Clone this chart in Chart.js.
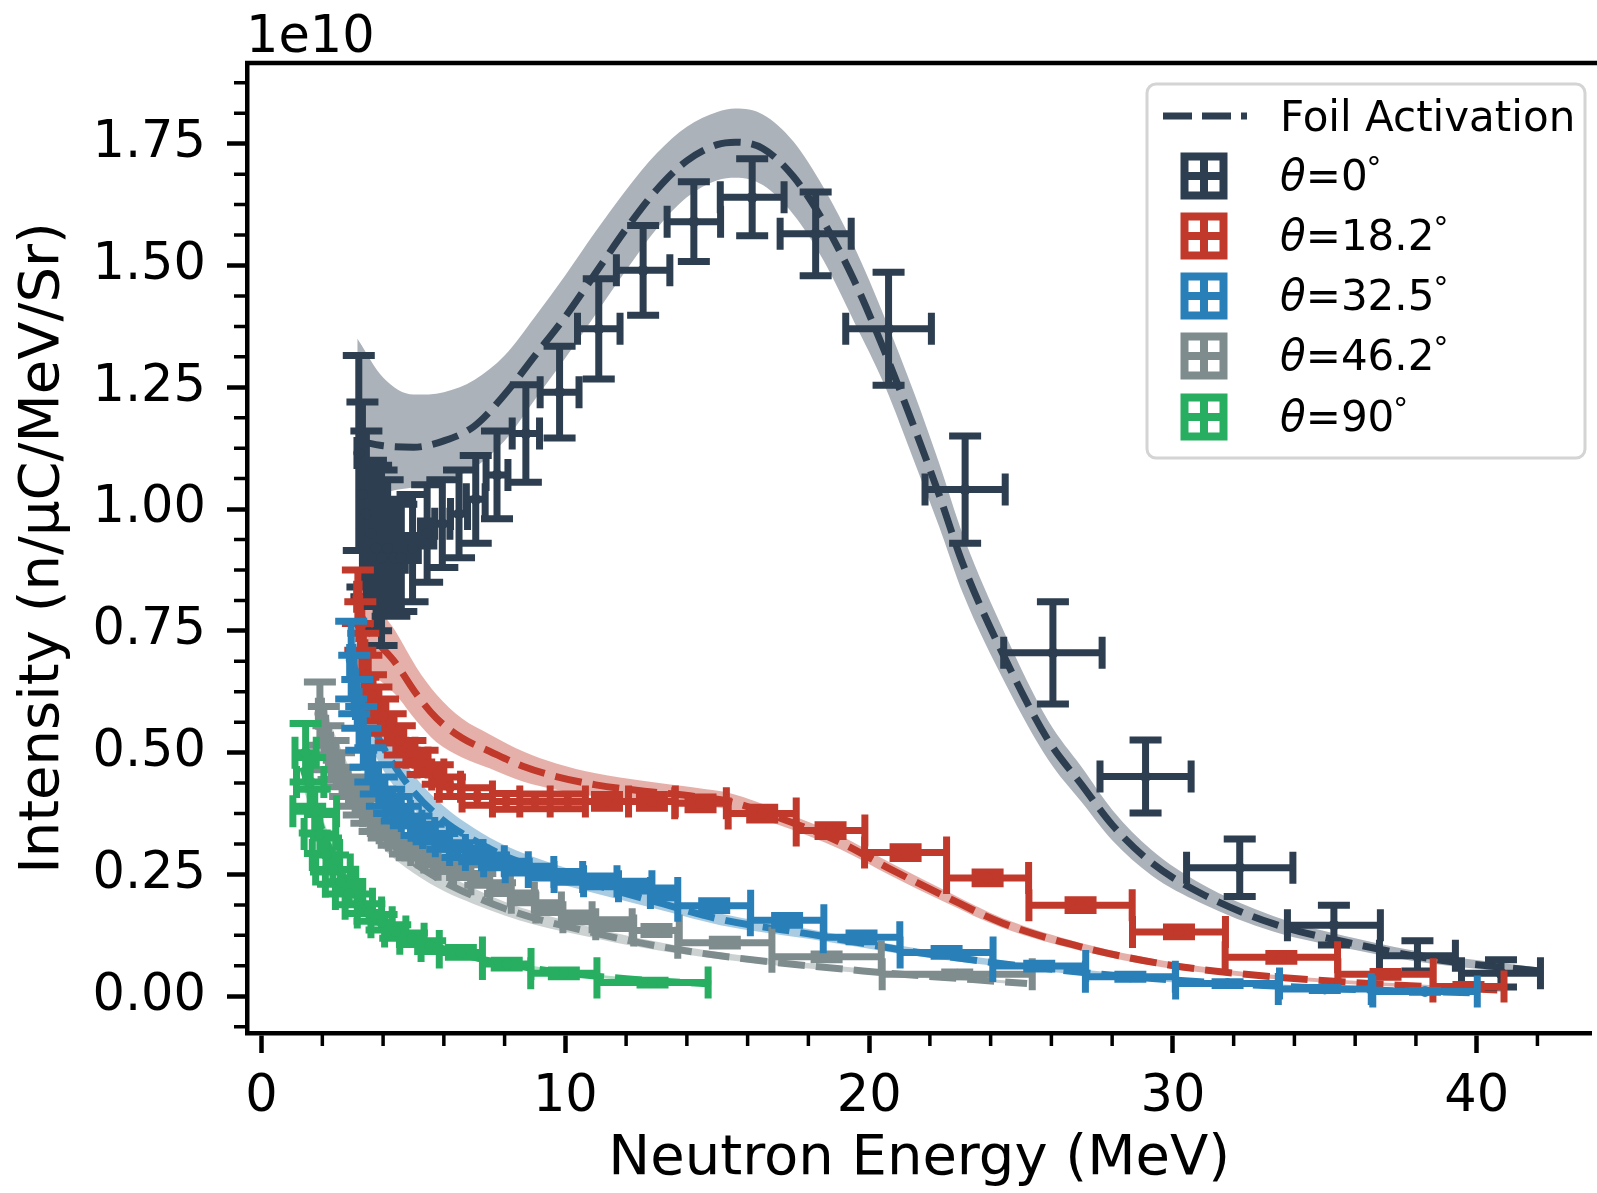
<!DOCTYPE html>
<html>
<head>
<meta charset="utf-8">
<title>Neutron energy spectra</title>
<script src="https://cdn.jsdelivr.net/npm/chart.js@4.4.1/dist/chart.umd.min.js"></script>
<style>
  html, body { margin: 0; padding: 0; background: #fff; overflow: hidden; }
  #chart { display: block; }
</style>
</head>
<body>
<canvas id="chart" width="1597" height="1193"></canvas>
<script>
// values are in units of 1e10 n/uC/MeV/Sr

// theta = 0
const energy0 = [3.2, 3.32, 3.45, 3.6, 3.77, 3.95, 4.15, 4.37, 4.6, 4.97, 5.45, 5.95, 6.5, 7.05, 7.75, 8.7, 9.81, 11.1, 12.56, 14.23, 16.15, 18.24, 20.64, 23.16, 26.05, 29.1, 32.2, 35.3, 38.05, 40.8];
const intensity0 = [1.115, 1.03, 0.99, 0.95, 0.92, 0.90, 0.92, 0.90, 0.90, 0.92, 0.95, 0.97, 0.99, 1.02, 1.07, 1.155, 1.24, 1.37, 1.49, 1.59, 1.64, 1.565, 1.37, 1.04, 0.705, 0.451, 0.264, 0.146, 0.083, 0.047];
const energyErr0 = [0.06, 0.07, 0.07, 0.08, 0.09, 0.1, 0.11, 0.11, 0.13, 0.19, 0.22, 0.25, 0.28, 0.31, 0.36, 0.45, 0.64, 0.7, 0.88, 0.88, 1.05, 1.17, 1.41, 1.32, 1.62, 1.5, 1.75, 1.53, 1.25, 1.3];
const intensityErr0 = [0.2, 0.19, 0.17, 0.15, 0.17, 0.18, 0.14, 0.12, 0.11, 0.11, 0.1, 0.09, 0.09, 0.09, 0.09, 0.1, 0.094, 0.103, 0.092, 0.082, 0.079, 0.086, 0.116, 0.11, 0.105, 0.075, 0.059, 0.041, 0.031, 0.028];

// theta = 18.2
const energy18 = [3.17, 3.25, 3.35, 3.45, 3.6, 3.78, 4.0, 4.25, 4.55, 4.9, 5.3, 5.8, 6.2, 7.1, 8.05, 9.0, 10.08, 11.37, 12.85, 14.45, 16.48, 18.73, 21.2, 23.9, 26.96, 30.2, 33.57, 37.0, 39.73];
const intensity18 = [0.82, 0.76, 0.70, 0.66, 0.62, 0.60, 0.575, 0.55, 0.525, 0.50, 0.48, 0.455, 0.43, 0.41, 0.40, 0.40, 0.40, 0.40, 0.40, 0.396, 0.375, 0.34, 0.295, 0.243, 0.187, 0.132, 0.08, 0.045, 0.02];
const energyErr18 = [0.04, 0.05, 0.05, 0.06, 0.07, 0.08, 0.09, 0.11, 0.13, 0.15, 0.18, 0.2, 0.35, 0.5, 0.45, 0.5, 0.58, 0.71, 0.77, 0.85, 1.12, 1.13, 1.35, 1.35, 1.7, 1.53, 1.85, 1.57, 1.17];
const intensityErr18 = [0.055, 0.05, 0.045, 0.04, 0.04, 0.035, 0.035, 0.03, 0.03, 0.025, 0.025, 0.02, 0.02, 0.018, 0.016, 0.015, 0.015, 0.014, 0.014, 0.013, 0.013, 0.012, 0.012, 0.012, 0.011, 0.01, 0.008, 0.006, 0.004];

// theta = 32.5
const energy32 = [2.95, 3.05, 3.15, 3.28, 3.42, 3.58, 3.76, 3.96, 4.2, 4.45, 4.75, 5.1, 5.5, 5.95, 6.45, 7.0, 7.65, 8.4, 9.2, 10.1, 11.15, 12.3, 13.25, 14.9, 17.3, 19.75, 22.55, 25.6, 28.6, 31.8, 35.0, 38.3];
const intensity32 = [0.69, 0.64, 0.60, 0.55, 0.51, 0.475, 0.445, 0.42, 0.40, 0.385, 0.37, 0.35, 0.335, 0.318, 0.30, 0.29, 0.277, 0.265, 0.255, 0.245, 0.236, 0.226, 0.212, 0.186, 0.156, 0.121, 0.09, 0.062, 0.04, 0.026, 0.015, 0.01];
const energyErr32 = [0.05, 0.05, 0.06, 0.07, 0.07, 0.08, 0.09, 0.1, 0.12, 0.13, 0.15, 0.18, 0.2, 0.23, 0.26, 0.29, 0.34, 0.38, 0.42, 0.47, 0.55, 0.55, 0.45, 1.2, 1.21, 1.26, 1.53, 1.53, 1.48, 1.71, 1.53, 1.72];
const intensityErr32 = [0.08, 0.06, 0.05, 0.045, 0.04, 0.035, 0.03, 0.03, 0.025, 0.025, 0.02, 0.02, 0.018, 0.016, 0.015, 0.014, 0.013, 0.012, 0.012, 0.011, 0.011, 0.01, 0.01, 0.01, 0.01, 0.009, 0.008, 0.006, 0.005, 0.004, 0.003, 0.002];

// theta = 46.2
const energy46 = [1.92, 2.05, 2.2, 2.37, 2.55, 2.75, 2.97, 3.2, 3.45, 3.72, 4.02, 4.35, 4.72, 5.12, 5.57, 6.06, 6.6, 7.2, 7.85, 8.6, 9.45, 10.4, 11.6, 13.0, 15.25, 18.6, 22.9];
const intensity46 = [0.58, 0.545, 0.51, 0.485, 0.465, 0.44, 0.42, 0.40, 0.38, 0.36, 0.345, 0.33, 0.31, 0.30, 0.285, 0.27, 0.257, 0.24, 0.222, 0.202, 0.182, 0.162, 0.148, 0.135, 0.11, 0.081, 0.045];
const energyErr46 = [0.05, 0.06, 0.07, 0.08, 0.09, 0.1, 0.11, 0.12, 0.13, 0.14, 0.15, 0.17, 0.19, 0.21, 0.23, 0.25, 0.28, 0.31, 0.34, 0.38, 0.42, 0.48, 0.6, 0.75, 1.55, 1.8, 2.47];
const intensityErr46 = [0.065, 0.05, 0.045, 0.04, 0.035, 0.03, 0.03, 0.028, 0.025, 0.022, 0.02, 0.02, 0.018, 0.016, 0.015, 0.014, 0.013, 0.012, 0.011, 0.01, 0.01, 0.009, 0.009, 0.008, 0.007, 0.006, 0.005];

// theta = 90
const energy90 = [1.45, 1.6, 1.75, 1.92, 2.12, 2.35, 2.6, 2.88, 3.2, 3.55, 3.95, 4.4, 4.95, 5.55, 6.56, 8.07, 9.95, 12.87];
const intensity90 = [0.5, 0.44, 0.38, 0.333, 0.29, 0.26, 0.235, 0.21, 0.19, 0.172, 0.152, 0.133, 0.118, 0.103, 0.09, 0.066, 0.047, 0.028];
const energyErr90 = [0.35, 0.45, 0.72, 0.52, 0.45, 0.57, 0.5, 0.45, 0.45, 0.4, 0.35, 0.35, 0.4, 0.3, 0.71, 0.8, 1.09, 1.83];
const intensityErr90 = [0.06, 0.05, 0.045, 0.04, 0.035, 0.03, 0.025, 0.022, 0.02, 0.018, 0.016, 0.014, 0.012, 0.011, 0.01, 0.008, 0.007, 0.005];

// foil activation fits (centre, lower and upper edge of band)
const fitEnergy0 = [3.15, 4.0, 5.0, 6.0, 7.0, 8.0, 9.0, 10.0, 11.0, 12.0, 13.0, 14.0, 15.0, 15.6, 16.5, 17.5, 18.5, 19.5, 20.5, 21.5, 22.3, 23.1, 24.5, 25.9, 27.0, 28.0, 29.3, 30.9, 33.3, 36.0, 38.6, 42.2];
const fit0 = [1.14, 1.13, 1.127, 1.14, 1.17, 1.235, 1.315, 1.395, 1.485, 1.575, 1.655, 1.715, 1.748, 1.753, 1.74, 1.683, 1.59, 1.47, 1.325, 1.165, 1.03, 0.885, 0.69, 0.525, 0.434, 0.352, 0.274, 0.212, 0.149, 0.107, 0.076, 0.051];
const fitLow0 = [0.98, 1.03, 1.045, 1.06, 1.085, 1.14, 1.225, 1.31, 1.40, 1.49, 1.575, 1.64, 1.675, 1.68, 1.665, 1.605, 1.51, 1.385, 1.255, 1.095, 0.965, 0.825, 0.64, 0.485, 0.398, 0.32, 0.248, 0.192, 0.133, 0.095, 0.066, 0.044];
const fitHigh0 = [1.35, 1.27, 1.235, 1.24, 1.265, 1.315, 1.395, 1.48, 1.57, 1.655, 1.73, 1.785, 1.815, 1.822, 1.81, 1.755, 1.66, 1.54, 1.395, 1.235, 1.095, 0.945, 0.74, 0.565, 0.47, 0.383, 0.30, 0.232, 0.165, 0.119, 0.086, 0.058];

const fitEnergy18 = [3.2, 3.65, 4.4, 5.1, 5.75, 6.6, 7.5, 8.6, 9.7, 11.0, 12.6, 14.3, 15.4, 17.1, 19.05, 20.7, 22.5, 24.4, 27.0, 29.7, 32.4, 36.0, 40.9];
const fit18 = [0.79, 0.74, 0.685, 0.62, 0.571, 0.53, 0.503, 0.472, 0.451, 0.434, 0.421, 0.41, 0.4, 0.365, 0.316, 0.261, 0.205, 0.15, 0.101, 0.066, 0.045, 0.028, 0.012];
const fitLow18 = [0.68, 0.66, 0.62, 0.565, 0.522, 0.49, 0.468, 0.441, 0.424, 0.41, 0.40, 0.392, 0.383, 0.35, 0.302, 0.248, 0.193, 0.14, 0.093, 0.059, 0.04, 0.024, 0.009];
const fitHigh18 = [0.90, 0.82, 0.75, 0.675, 0.62, 0.57, 0.538, 0.503, 0.478, 0.458, 0.442, 0.428, 0.417, 0.38, 0.33, 0.274, 0.217, 0.16, 0.109, 0.073, 0.05, 0.032, 0.015];

const fitEnergy32 = [2.95, 3.3, 3.7, 4.2, 5.0, 6.0, 7.0, 8.0, 9.5, 11.0, 13.2, 15.1, 18.0, 21.6, 25.2, 28.8, 32.4, 36.0, 39.9];
const fit32 = [0.70, 0.62, 0.55, 0.49, 0.42, 0.36, 0.32, 0.288, 0.255, 0.228, 0.19, 0.158, 0.128, 0.09, 0.061, 0.039, 0.024, 0.014, 0.007];
const fitLow32 = [0.63, 0.56, 0.50, 0.445, 0.385, 0.33, 0.295, 0.266, 0.236, 0.211, 0.176, 0.146, 0.118, 0.082, 0.055, 0.034, 0.02, 0.011, 0.005];
const fitHigh32 = [0.77, 0.68, 0.60, 0.535, 0.455, 0.39, 0.345, 0.31, 0.274, 0.245, 0.204, 0.17, 0.138, 0.098, 0.067, 0.044, 0.028, 0.017, 0.009];

const fitEnergy46 = [1.9, 2.2, 2.6, 3.0, 3.5, 4.0, 5.0, 6.0, 7.0, 8.0, 9.0, 10.4, 12.6, 15.1, 19.8, 25.2];
const fit46 = [0.60, 0.53, 0.47, 0.42, 0.37, 0.33, 0.275, 0.235, 0.205, 0.18, 0.16, 0.138, 0.108, 0.083, 0.052, 0.026];
const fitLow46 = [0.55, 0.485, 0.43, 0.385, 0.34, 0.303, 0.253, 0.216, 0.189, 0.166, 0.147, 0.127, 0.099, 0.076, 0.047, 0.023];
const fitHigh46 = [0.65, 0.575, 0.51, 0.455, 0.40, 0.357, 0.297, 0.254, 0.221, 0.194, 0.173, 0.149, 0.117, 0.09, 0.057, 0.029];

const fitEnergy90 = [1.35, 1.6, 2.0, 2.5, 3.0, 3.5, 4.0, 5.0, 6.0, 7.0, 8.0, 10.0, 12.0, 14.8];
const fit90 = [0.47, 0.42, 0.34, 0.27, 0.215, 0.18, 0.155, 0.12, 0.097, 0.08, 0.067, 0.048, 0.036, 0.025];
const fitLow90 = [0.43, 0.385, 0.312, 0.248, 0.197, 0.165, 0.142, 0.11, 0.089, 0.073, 0.061, 0.044, 0.033, 0.023];
const fitHigh90 = [0.51, 0.455, 0.368, 0.292, 0.233, 0.195, 0.168, 0.13, 0.105, 0.087, 0.073, 0.052, 0.039, 0.027];

// ticks
const xTicks = [0, 10, 20, 30, 40];
const xMinorTicks = [2, 4, 6, 8, 12, 14, 16, 18, 22, 24, 26, 28, 32, 34, 36, 38, 42];
const yTicks = [0, 0.25, 0.5, 0.75, 1.0, 1.25, 1.5, 1.75];
const yMinorTicks = [-0.0625, 0.0625, 0.125, 0.1875, 0.3125, 0.375, 0.4375, 0.5625, 0.625, 0.6875, 0.8125, 0.875, 0.9375, 1.0625, 1.125, 1.1875, 1.3125, 1.375, 1.4375, 1.5625, 1.625, 1.6875, 1.8125, 1.875];

const FONT = '"DejaVu Sans", "Liberation Sans", sans-serif';
const CAP = 16;

// draw order: first entry is painted first (lowest)
const series = [
  { label: '0', color: '#2c3e50', band: 'rgba(44,62,80,0.4)', e: energy0, v: intensity0, ex: energyErr0, ev: intensityErr0, fe: fitEnergy0, f: fit0, lo: fitLow0, hi: fitHigh0 },
  { label: '18.2', color: '#c0392b', band: 'rgba(192,57,43,0.4)', e: energy18, v: intensity18, ex: energyErr18, ev: intensityErr18, fe: fitEnergy18, f: fit18, lo: fitLow18, hi: fitHigh18 },
  { label: '32.5', color: '#2980b9', band: 'rgba(41,128,185,0.4)', e: energy32, v: intensity32, ex: energyErr32, ev: intensityErr32, fe: fitEnergy32, f: fit32, lo: fitLow32, hi: fitHigh32 },
  { label: '46.2', color: '#7f8c8d', band: 'rgba(127,140,141,0.4)', e: energy46, v: intensity46, ex: energyErr46, ev: intensityErr46, fe: fitEnergy46, f: fit46, lo: fitLow46, hi: fitHigh46 },
  { label: '90', color: '#27ae60', band: 'rgba(39,174,96,0.4)', e: energy90, v: intensity90, ex: energyErr90, ev: intensityErr90, fe: fitEnergy90, f: fit90, lo: fitLow90, hi: fitHigh90 }
];
const pointOrder = { '0': 15, '18.2': 14, '46.2': 13, '90': 12, '32.5': 11 };

function pts(xs, ys) {
  return xs.map((x, k) => ({ x: x, y: ys[k] }));
}

const datasets = [];
series.forEach((s, n) => {
  datasets.push({
    data: pts(s.fe, s.hi), showLine: true, borderWidth: 0, pointRadius: 0,
    backgroundColor: s.band, fill: '+1', cubicInterpolationMode: 'monotone', order: 40 - n
  });
  datasets.push({
    data: pts(s.fe, s.lo), showLine: true, borderWidth: 0, pointRadius: 0,
    fill: false, cubicInterpolationMode: 'monotone', order: 40 - n
  });
  datasets.push({
    data: pts(s.fe, s.f), showLine: true, borderColor: s.color, borderWidth: 7,
    borderDash: [27, 11], pointRadius: 0, fill: false,
    cubicInterpolationMode: 'monotone', order: 25 - n
  });
  datasets.push({
    label: s.label, data: pts(s.e, s.v), errX: s.ex, errY: s.ev,
    showLine: false, pointRadius: 5.5, pointBorderWidth: 0,
    pointBackgroundColor: s.color, order: pointOrder[s.label]
  });
});

// x and y error bars with caps, painted just before each point dataset
const errorBars = {
  id: 'errorBars',
  beforeDatasetDraw(chart, args) {
    const ds = chart.data.datasets[args.index];
    if (!ds.errX) return;
    const ctx = chart.ctx, xs = chart.scales.x, ys = chart.scales.y;
    ctx.save();
    ctx.strokeStyle = ds.pointBackgroundColor;
    ctx.lineWidth = 7;
    ctx.beginPath();
    ds.data.forEach((p, k) => {
      const cx = xs.getPixelForValue(p.x), cy = ys.getPixelForValue(p.y);
      const xl = xs.getPixelForValue(p.x - ds.errX[k]), xr = xs.getPixelForValue(p.x + ds.errX[k]);
      const yt = ys.getPixelForValue(p.y + ds.errY[k]), yb = ys.getPixelForValue(p.y - ds.errY[k]);
      ctx.moveTo(xl, cy); ctx.lineTo(xr, cy);
      ctx.moveTo(cx, yt); ctx.lineTo(cx, yb);
      ctx.moveTo(xl, cy - CAP); ctx.lineTo(xl, cy + CAP);
      ctx.moveTo(xr, cy - CAP); ctx.lineTo(xr, cy + CAP);
      ctx.moveTo(cx - CAP, yt); ctx.lineTo(cx + CAP, yt);
      ctx.moveTo(cx - CAP, yb); ctx.lineTo(cx + CAP, yb);
    });
    ctx.stroke();
    ctx.restore();
  }
};

// top spine, minor ticks and the 1e10 offset text
const frame = {
  id: 'frame',
  afterDraw(chart) {
    const ctx = chart.ctx, a = chart.chartArea, xs = chart.scales.x, ys = chart.scales.y;
    ctx.save();
    ctx.strokeStyle = '#000';
    ctx.lineWidth = 4.5;
    ctx.beginPath();
    ctx.moveTo(a.left - 2, a.top); ctx.lineTo(chart.width, a.top);
    ctx.stroke();
    ctx.lineWidth = 3.5;
    ctx.beginPath();
    xMinorTicks.forEach(v => {
      const px = xs.getPixelForValue(v);
      ctx.moveTo(px, a.bottom); ctx.lineTo(px, a.bottom + 13);
    });
    yMinorTicks.forEach(v => {
      const py = ys.getPixelForValue(v);
      ctx.moveTo(a.left, py); ctx.lineTo(a.left - 13, py);
    });
    ctx.stroke();
    ctx.fillStyle = '#000';
    ctx.font = '51px ' + FONT;
    ctx.textAlign = 'left';
    ctx.textBaseline = 'alphabetic';
    ctx.fillText('1e10', a.left - 1, 52);
    ctx.restore();
  }
};

// legend box in the upper right corner
const legendBox = {
  id: 'legendBox',
  afterDraw(chart) {
    const ctx = chart.ctx;
    const bx = 1147, by = 84, bw = 438, bh = 374;
    const baselines = [131, 190, 250, 310, 370, 431];
    const hx = 1204, tx = 1280;
    ctx.save();
    ctx.beginPath();
    ctx.roundRect(bx, by, bw, bh, 9);
    ctx.fillStyle = 'rgba(255,255,255,0.8)';
    ctx.fill();
    ctx.strokeStyle = '#d4d4d4';
    ctx.lineWidth = 3;
    ctx.stroke();

    ctx.strokeStyle = series[0].color;
    ctx.lineWidth = 7;
    ctx.setLineDash([29, 10]);
    ctx.beginPath();
    ctx.moveTo(1163, baselines[0] - 15); ctx.lineTo(1247, baselines[0] - 15);
    ctx.stroke();
    ctx.setLineDash([]);

    ctx.fillStyle = '#000';
    ctx.textBaseline = 'alphabetic';
    ctx.textAlign = 'left';
    ctx.font = '42px ' + FONT;
    ctx.fillText('Foil Activation', tx, baselines[0]);

    series.forEach((s, n) => {
      const base = baselines[n + 1], cy = base - 14, h = 19.5;
      ctx.strokeStyle = s.color;
      ctx.lineWidth = 8;
      ctx.beginPath();
      ctx.moveTo(hx - h - 4, cy); ctx.lineTo(hx + h + 4, cy);
      ctx.moveTo(hx, cy - h - 4); ctx.lineTo(hx, cy + h + 4);
      ctx.moveTo(hx - h, cy - h - 4); ctx.lineTo(hx - h, cy + h + 4);
      ctx.moveTo(hx + h, cy - h - 4); ctx.lineTo(hx + h, cy + h + 4);
      ctx.moveTo(hx - h - 4, cy - h); ctx.lineTo(hx + h + 4, cy - h);
      ctx.moveTo(hx - h - 4, cy + h); ctx.lineTo(hx + h + 4, cy + h);
      ctx.stroke();

      let x = tx;
      ctx.font = 'italic 42px ' + FONT;
      ctx.fillText('θ', x, base);
      x += ctx.measureText('θ').width;
      ctx.font = '42px ' + FONT;
      const rest = '=' + s.label;
      ctx.fillText(rest, x, base);
      x += ctx.measureText(rest).width - 3;
      ctx.font = '30px ' + FONT;
      ctx.fillText('∘', x, base - 20);
    });
    ctx.restore();
  }
};

Chart.defaults.font.family = FONT;
Chart.defaults.color = '#000';

new Chart(document.getElementById('chart'), {
  type: 'scatter',
  data: { datasets: datasets },
  plugins: [errorBars, frame, legendBox],
  options: {
    responsive: false,
    devicePixelRatio: 1,
    animation: false,
    events: [],
    layout: { padding: { top: 63, right: 0, bottom: 0, left: 0 } },
    plugins: {
      legend: { display: false },
      tooltip: { enabled: false },
      filler: { propagate: false }
    },
    scales: {
      x: {
        type: 'linear',
        min: -0.48,
        max: 43.78,
        afterFit(scale) { scale.height = 160; },
        afterBuildTicks(scale) { scale.ticks = xTicks.map(v => ({ value: v })); },
        ticks: {
          font: { size: 51 }, color: '#000', padding: 14,
          maxRotation: 0, autoSkip: false,
          callback: v => String(v)
        },
        grid: { drawOnChartArea: false, drawTicks: true, tickLength: 20, tickWidth: 4.5, tickColor: '#000' },
        border: { display: true, color: '#000', width: 4.5 },
        title: { display: true, text: 'Neutron Energy (MeV)', color: '#000', font: { size: 56 }, padding: { top: 0, bottom: 0 } }
      },
      y: {
        type: 'linear',
        min: -0.0754,
        max: 1.9156,
        afterFit(scale) { scale.width = 247; },
        afterBuildTicks(scale) { scale.ticks = yTicks.map(v => ({ value: v })); },
        ticks: {
          font: { size: 51 }, color: '#000', padding: 21,
          autoSkip: false,
          callback: v => Number(v).toFixed(2)
        },
        grid: { drawOnChartArea: false, drawTicks: true, tickLength: 20, tickWidth: 4.5, tickColor: '#000' },
        border: { display: true, color: '#000', width: 4.5 },
        title: { display: true, text: 'Intensity (n/μC/MeV/Sr)', color: '#000', font: { size: 56 }, padding: { top: 10, bottom: 0 } }
      }
    }
  }
});
</script>
</body>
</html>
